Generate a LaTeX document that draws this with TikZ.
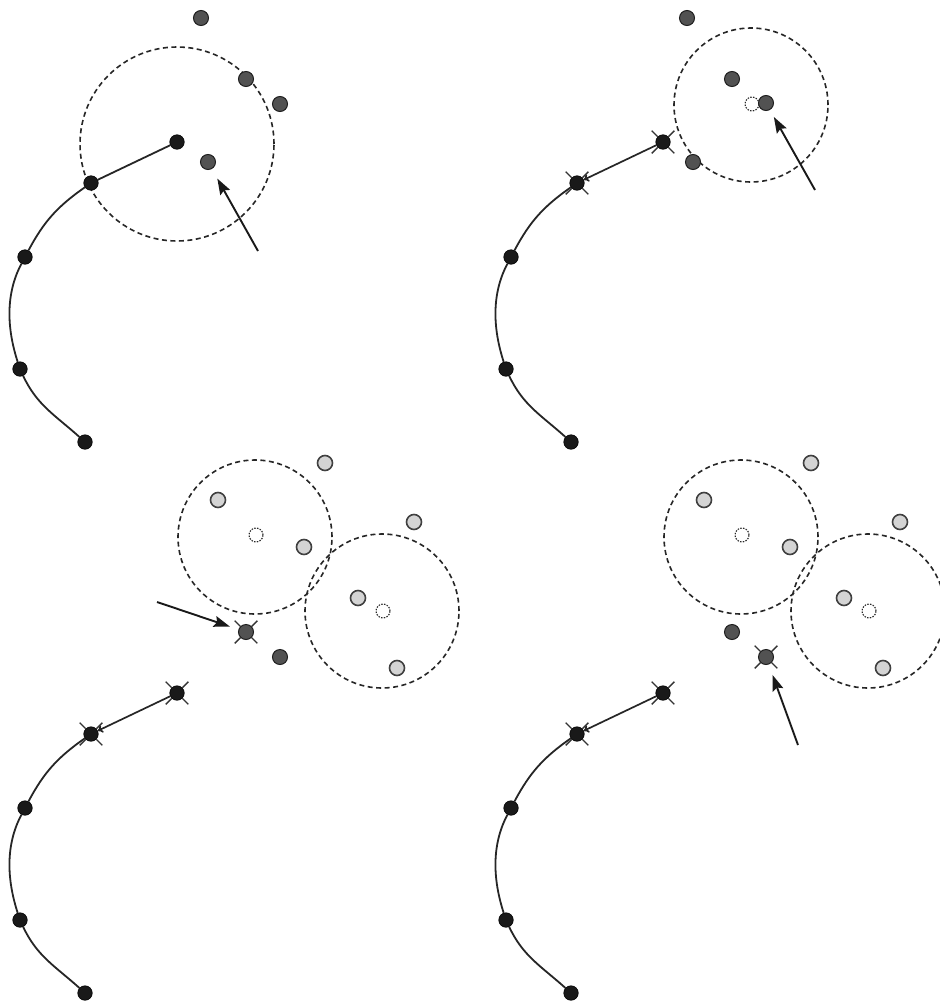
\documentclass[tikz,border=0pt]{standalone}
\usetikzlibrary{arrows.meta}
\newcommand\crossat[1]{\foreach \a in {45,135,225,315}{\draw[xarm] (#1) ++(\a:7.5) -- ++(\a:8.5);}}
\begin{document}
\begin{tikzpicture}[x=1pt,y=-1pt,
  blk/.style={circle,fill=black!90,draw=black,line width=0.6pt,inner sep=0pt,minimum size=14.5pt},
  dkg/.style={circle,fill=black!68,draw=black!88,line width=1pt,inner sep=0pt,minimum size=15pt},
  ltg/.style={circle,fill=black!17,draw=black!75,line width=1.6pt,inner sep=0pt,minimum size=15pt},
  ghost/.style={circle,draw=black!85,dash pattern=on 1.5pt off 1.3pt,line width=1.1pt,inner sep=0pt,minimum size=14pt},
  rng/.style={circle,draw=black!85,dash pattern=on 5pt off 3.5pt,line width=1.6pt,inner sep=0pt,minimum size=#1},
  crv/.style={draw=black!85,line width=1.8pt},
  bigarrow/.style={draw=black!90,line width=1.9pt,-{Stealth[length=16pt,width=11pt,inset=2.5pt]}},
  backarrow/.style={draw=black!85,line width=1.7pt,-{To[length=5pt,width=8pt]}},
  xarm/.style={draw=black!80,line width=1.4pt}
]
\useasboundingbox[fill=white] (0,0) rectangle (940,1007);

% ---------------- top-left ----------------
\node[rng=194pt] (aC) at (177,144) {};
\node[blk] (a1) at (177,142) {};
\node[blk] (a2) at (91,183) {};
\node[blk] (a3) at (25,257) {};
\node[blk] (a4) at (20,369) {};
\node[blk] (a5) at (85,442) {};
\draw[crv] (a5) to[out=138,in=-65] (a4) to[out=108,in=-118,looseness=0.9] (a3) to[out=62,in=-145] (a2) -- (a1);
\node[dkg] (ad1) at (201,18) {};
\node[dkg] (ad2) at (246,79) {};
\node[dkg] (ad3) at (280,104) {};
\node[dkg] (ad4) at (208,162) {};
\coordinate (aT) at (258,251);
\draw[bigarrow,shorten >=11pt] (aT) -- (ad4);

% ---------------- top-right ----------------
\node[rng=154pt] (bC) at (751,105) {};
\node[ghost] (bg) at (752,104) {};
\node[blk] (b1) at (663,142) {};
\node[blk] (b2) at (577,183) {};
\node[blk] (b3) at (511,257) {};
\node[blk] (b4) at (506,369) {};
\node[blk] (b5) at (571,442) {};
\draw[crv] (b5) to[out=138,in=-65] (b4) to[out=108,in=-118,looseness=0.9] (b3) to[out=62,in=-145] (b2);
\draw[backarrow] (b1) -- (b2);
\crossat{b1}
\crossat{b2}
\node[dkg] (bd1) at (687,18) {};
\node[dkg] (bd2) at (732,79) {};
\node[dkg] (bd3) at (766,103) {};
\node[dkg] (bd4) at (693,162) {};
\coordinate (bT) at (815,190);
\draw[bigarrow,shorten >=8pt] (bT) -- (bd3);

% ---------------- bottom-left ----------------
\node[rng=154pt] (cC1) at (255,537) {};
\node[rng=154pt] (cC2) at (382,611) {};
\node[ghost] (cg1) at (256,535) {};
\node[ghost] (cg2) at (383,611) {};
\node[ltg] (cl1) at (325,463) {};
\node[ltg] (cl2) at (218,500) {};
\node[ltg] (cl3) at (304,547) {};
\node[ltg] (cl4) at (414,522) {};
\node[ltg] (cl5) at (358,598) {};
\node[ltg] (cl6) at (397,668) {};
\node[dkg] (cd1) at (246,632) {};
\node[dkg] (cd2) at (280,657) {};
\crossat{cd1}
\node[blk] (c1) at (177,693) {};
\node[blk] (c2) at (91,734) {};
\node[blk] (c3) at (25,808) {};
\node[blk] (c4) at (20,920) {};
\node[blk] (c5) at (85,993) {};
\draw[crv] (c5) to[out=138,in=-65] (c4) to[out=108,in=-118,looseness=0.9] (c3) to[out=62,in=-145] (c2);
\draw[backarrow] (c1) -- (c2);
\crossat{c1}
\crossat{c2}
\coordinate (cT) at (157,602);
\draw[bigarrow,shorten >=9pt] (cT) -- (cd1);

% ---------------- bottom-right ----------------
\node[rng=154pt] (dC1) at (741,537) {};
\node[rng=154pt] (dC2) at (868,611) {};
\node[ghost] (dg1) at (742,535) {};
\node[ghost] (dg2) at (869,611) {};
\node[ltg] (dl1) at (811,463) {};
\node[ltg] (dl2) at (704,500) {};
\node[ltg] (dl3) at (790,547) {};
\node[ltg] (dl4) at (900,522) {};
\node[ltg] (dl5) at (844,598) {};
\node[ltg] (dl6) at (883,668) {};
\node[dkg] (dd1) at (732,632) {};
\node[dkg] (dd2) at (766,657) {};
\crossat{dd2}
\node[blk] (d1) at (663,693) {};
\node[blk] (d2) at (577,734) {};
\node[blk] (d3) at (511,808) {};
\node[blk] (d4) at (506,920) {};
\node[blk] (d5) at (571,993) {};
\draw[crv] (d5) to[out=138,in=-65] (d4) to[out=108,in=-118,looseness=0.9] (d3) to[out=62,in=-145] (d2);
\draw[backarrow] (d1) -- (d2);
\crossat{d1}
\crossat{d2}
\coordinate (dT) at (798,745);
\draw[bigarrow,shorten >=11pt] (dT) -- (dd2);
\end{tikzpicture}
\end{document}
